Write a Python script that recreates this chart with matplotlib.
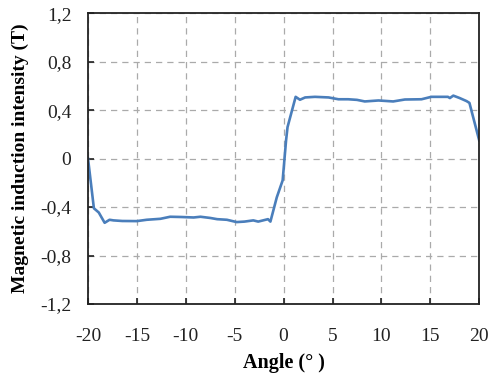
import numpy as np
import matplotlib
matplotlib.use('Agg')
import matplotlib.pyplot as plt

angle = [-20, -19.4, -18.9, -18.3, -17.8, -17.4, -16.5, -15.0, -14.0, -12.6, -11.6,
         -10.5, -9.2, -8.5, -7.5, -6.8, -5.8, -4.8, -4.0, -3.1, -2.6, -1.6, -1.35,
         -0.7, -0.1, 0.25, 0.4, 1.23, 1.67, 2.2, 3.2, 4.6, 5.6, 6.6, 7.5, 8.3, 9.7,
         11.2, 12.4, 14.1, 15.1, 16.8, 17.0, 17.35, 18.0, 18.7, 19.0, 20]
flux = [0.0, -0.41, -0.445, -0.53, -0.505, -0.51, -0.515, -0.516, -0.505, -0.497, -0.48,
        -0.482, -0.486, -0.48, -0.49, -0.50, -0.505, -0.524, -0.52, -0.51, -0.52, -0.50, -0.52,
        -0.32, -0.18, 0.15, 0.26, 0.51, 0.486, 0.505, 0.51, 0.505, 0.49, 0.49, 0.485, 0.472, 0.48,
        0.472, 0.488, 0.49, 0.51, 0.51, 0.50, 0.52, 0.50, 0.475, 0.46, 0.15]

xticks = [-20, -15, -10, -5, 0, 5, 10, 15, 20]
yticks = [-1.2, -0.8, -0.4, 0, 0.4, 0.8, 1.2]
ytick_labels = ['-1,2', '-0,8', '-0,4', '0', '0,4', '0,8', '1,2']

plt.rcParams['font.family'] = ['Liberation Serif', 'DejaVu Serif']

fig = plt.figure(figsize=(4.89, 3.79), dpi=100)
ax = fig.add_axes([0.18, 0.198, 0.80, 0.767])

ax.plot(angle, flux, color='#4a7ebb', linewidth=1.9)

ax.set_xlim(-20, 20)
ax.set_ylim(-1.2, 1.2)
ax.set_xticks(xticks)
ax.set_xticklabels([str(t) for t in xticks])
ax.set_yticks(yticks)
ax.set_yticklabels(ytick_labels)
ax.tick_params(direction='in', length=4, width=1.2, labelsize=14, colors='#222222')
ax.tick_params(axis='x', pad=17)
ax.tick_params(axis='y', pad=12)

ax.grid(True, color='#aaaaaa', linestyle=(0, (5, 4)), linewidth=0.9)
for s in ax.spines.values():
    s.set_linewidth(1.3)
    s.set_color('#222222')

ax.set_xlabel('Angle (° )', fontsize=14.5, fontweight='bold', labelpad=6)
ax.set_ylabel('Magnetic induction intensity (T)', fontsize=14, fontweight='bold', labelpad=8)

fig.savefig('out.png', dpi=100)
